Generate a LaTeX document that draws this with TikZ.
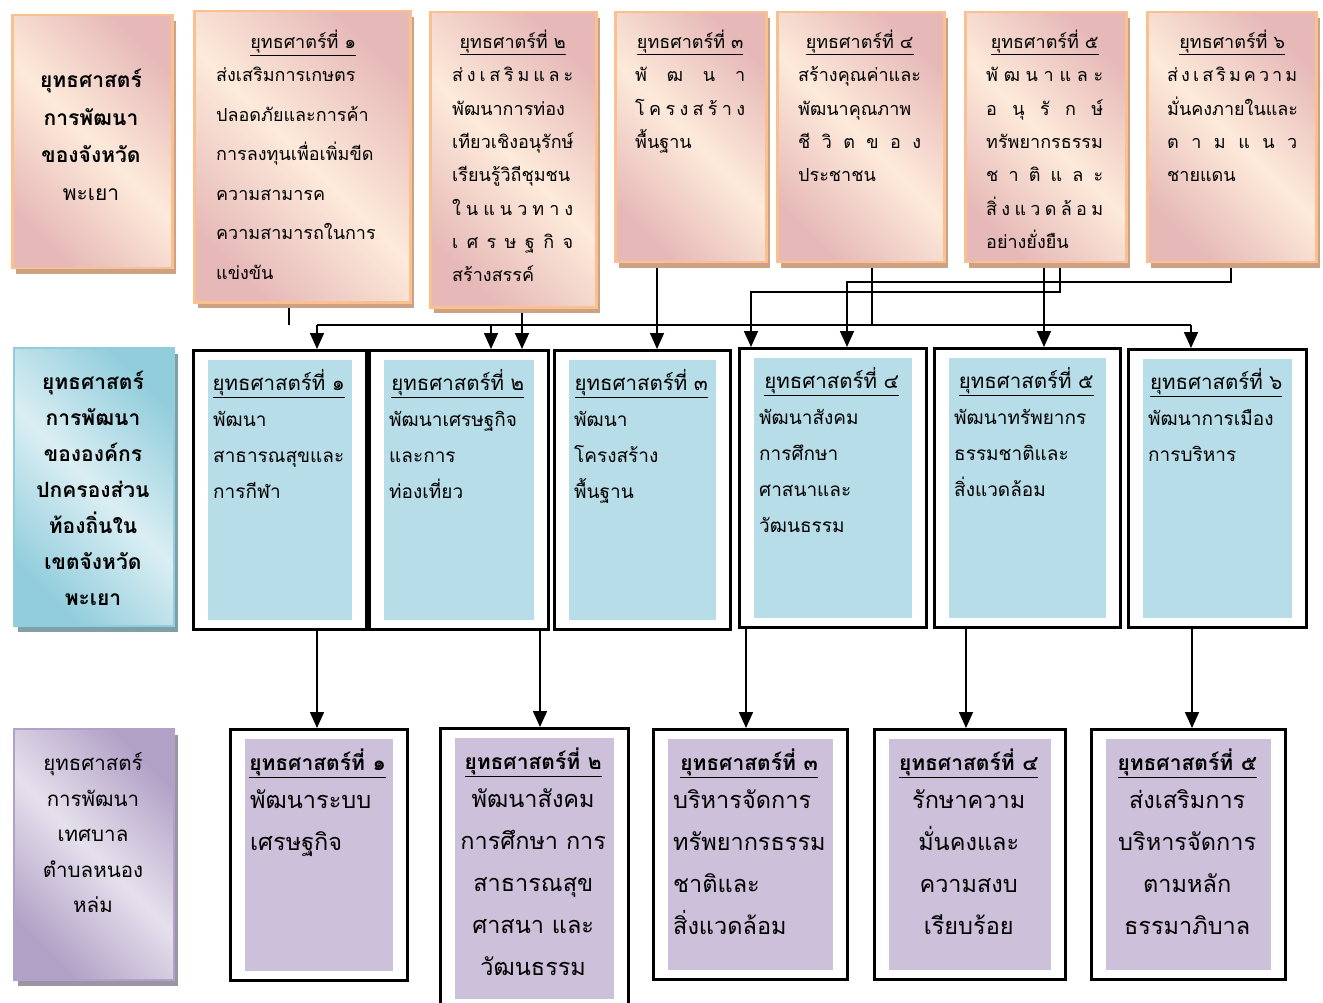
\documentclass[tikz,border=0pt]{standalone}
\usepackage{fontspec}
\newfontfamily\thai[Script=Thai]{Loma}
\usetikzlibrary{arrows.meta,shadows,backgrounds}
\definecolor{peach}{HTML}{FDEADA}
\definecolor{rose}{HTML}{E6B9B8}
\definecolor{apricot}{HTML}{FAC08F}
\definecolor{tan shadow}{HTML}{CDA284}
\definecolor{sky}{HTML}{92CDDC}
\definecolor{ice}{HTML}{DAEEF3}
\definecolor{sky shadow}{HTML}{7F9FA9}
\definecolor{lilac}{HTML}{B2A1C7}
\definecolor{mist}{HTML}{E5E0EC}
\definecolor{lilac shadow}{HTML}{9B94A4}
\definecolor{blue fill}{HTML}{B7DDE8}
\definecolor{lilac fill}{HTML}{CCC0DA}

\newcommand{\spreadline}[1]{\makebox[\hsize][s]{\spaceskip=0.1pt plus 1fil\relax #1}}
\newcommand{\headline}[1]{\makebox[\hsize]{\underline{#1}}}

\tikzset{
	every node/.style={anchor=north west, inner sep=0pt},
	planbox/.style={draw=apricot, line width=2.5pt,
		top color=rose, bottom color=rose, middle color=peach, shading angle=-45,
		drop shadow={shadow xshift=4pt, shadow yshift=-6pt, fill=tan shadow, opacity=1}},
	localbox/.style={draw=sky, line width=2pt,
		top color=sky, bottom color=sky, middle color=ice, shading angle=-45,
		drop shadow={shadow xshift=4pt, shadow yshift=-6pt, fill=sky shadow, opacity=1}},
	townbox/.style={draw=lilac, line width=2pt,
		top color=lilac, bottom color=lilac, middle color=mist, shading angle=-45,
		drop shadow={shadow xshift=4pt, shadow yshift=-6pt, fill=lilac shadow, opacity=1}},
	framebox/.style={draw=black, line width=2.5pt, fill=white},
	plantext/.style={align=left, font=\thai\fontsize{18}{33.3}\selectfont},
	midtext/.style={align=left, font=\thai\fontsize{19}{36}\selectfont},
	lowtext/.style={font=\thai\fontsize{23.5}{42}\selectfont},
	labeltext/.style={anchor=north, align=center, font=\thai\bfseries\fontsize{21}{36}\selectfont},
	wire/.style={line width=1.6pt},
	link/.style={line width=1.6pt, -{Triangle[width=14pt,length=16pt]}}
}
\newcommand{\midhead}[1]{\headline{\fontsize{20.5}{36}\selectfont #1}}
\newcommand{\lowhead}[1]{\headline{\fontsize{21}{42}\selectfont\bfseries #1}}

\begin{document}
\begin{tikzpicture}[x=1pt, y=-1pt]
	\useasboundingbox (0,0) rectangle (1323,1003);
	% province plans
	\node[planbox, minimum width=160pt, minimum height=253pt] (l1) at (11,14) {};
	\node[planbox, minimum width=216pt, minimum height=291pt] (s1) at (193,10) {};
	\node[planbox, minimum width=166pt, minimum height=295pt] (s2) at (429,11) {};
	\node[planbox, minimum width=151pt, minimum height=250pt] (s3) at (614,11) {};
	\node[planbox, minimum width=167pt, minimum height=250pt] (s4) at (776,11) {};
	\node[planbox, minimum width=161pt, minimum height=250pt] (s5) at (964,11) {};
	\node[planbox, minimum width=169pt, minimum height=250pt] (s6) at (1146,11) {};
	\node[labeltext, font=\thai\bfseries\fontsize{21}{37.5}\selectfont] at (91,69)
		{ยุทธศาสตร์\\ การพัฒนา\\ ของจังหวัด\\ \mdseries พะเยา};
	\node[plantext, text width=174pt, font=\thai\fontsize{18}{39.5}\selectfont] at (216,21)
		{\strut\headline{ยุทธศาตร์ที่ ๑}\\[-6.5pt] ส่งเสริมการเกษตร\\ ปลอดภัยและการค้า\\
		การลงทุนเพื่อเพิ่มขีด\\ ความสามารค\\ ความสามารถในการ\\ แข่งขัน};
	\node[plantext, text width=121pt] at (452,25)
		{\strut\headline{ยุทธศาตร์ที่ ๒}\\ \spreadline{ส่ ง เ ส ริ ม แ ล ะ}\\ พัฒนาการท่อง\\
		เทียวเชิงอนุรักษ์\\ เรียนรู้วิถีชุมชน\\ \spreadline{ใ น แ น ว ท า ง}\\
		\spreadline{เ ศ ร ษ ฐ กิ จ}\\ สร้างสรรค์};
	\node[plantext, text width=110pt] at (635,25)
		{\strut\headline{ยุทธศาตร์ที่ ๓}\\ \spreadline{พั ฒ น า}\\
		\spreadline{โ ค ร ง ส ร้ า ง}\\ พื้นฐาน};
	\node[plantext, text width=123pt] at (798,25)
		{\strut\headline{ยุทธศาตร์ที่ ๔}\\ สร้างคุณค่าและ\\ พัฒนาคุณภาพ\\
		\spreadline{ชี วิ ต ข อ ง}\\ ประชาชน};
	\node[plantext, text width=117pt] at (986,25)
		{\strut\headline{ยุทธศาตร์ที่ ๕}\\ \spreadline{พั ฒ น า แ ล ะ}\\
		\spreadline{อ นุ รั ก ษ์}\\ ทรัพยากรธรรม\\ \spreadline{ช า ติ แ ล ะ}\\
		\spreadline{สิ่ ง แ ว ด ล้ อ ม}\\ อย่างยั่งยืน};
	\node[plantext, text width=130pt] at (1167,25)
		{\strut\headline{ยุทธศาตร์ที่ ๖}\\ \spreadline{ส่ ง เ ส ริ ม ค ว า ม}\\
		มั่นคงภายในและ\\ \spreadline{ต า ม แ น ว}\\ ชายแดน};
	% local government plans
	\node[localbox, minimum width=160pt, minimum height=278pt] (l2) at (13,347) {};
	\node[framebox, minimum width=173pt, minimum height=279pt] (m1) at (192,349) {};
	\node[framebox, minimum width=179pt, minimum height=279pt] (m2) at (368,349) {};
	\node[framebox, minimum width=176pt, minimum height=279pt] (m3) at (553,349) {};
	\node[framebox, minimum width=187pt, minimum height=279pt] (m4) at (738,347) {};
	\node[framebox, minimum width=186pt, minimum height=279pt] (m5) at (933,347) {};
	\node[framebox, minimum width=178pt, minimum height=278pt] (m6) at (1127,348) {};
	\foreach \m in {m1,m2,m3,m4,m5,m6}
		\fill[blue fill] ([shift={(16,11)}]\m.north west) rectangle ([shift={(-16,-11)}]\m.south east);
	\node[labeltext] at (93,371) {ยุทธศาสตร์\\ การพัฒนา\\ ขององค์กร\\ ปกครองส่วน\\
		ท้องถิ่นใน\\ เขตจังหวัด\\ พะเยา};
	\node[midtext, text width=131pt] at ([shift={(21,16)}]m1.north west)
		{\strut\midhead{ยุทธศาสตร์ที่ ๑}\\ พัฒนา\\ สาธารณสุขและ\\ การกีฬา};
	\node[midtext, text width=137pt] at ([shift={(21,16)}]m2.north west)
		{\strut\midhead{ยุทธศาสตร์ที่ ๒}\\ พัฒนาเศรษฐกิจ\\ และการ\\ ท่องเที่ยว};
	\node[midtext, text width=134pt] at ([shift={(21,16)}]m3.north west)
		{\strut\midhead{ยุทธศาสตร์ที่ ๓}\\ พัฒนา\\ โครงสร้าง\\ พื้นฐาน};
	\node[midtext, text width=145pt] at ([shift={(21,16)}]m4.north west)
		{\strut\midhead{ยุทธศาสตร์ที่ ๔}\\ พัฒนาสังคม\\ การศึกษา\\ ศาสนาและ\\ วัฒนธรรม};
	\node[midtext, text width=144pt] at ([shift={(21,16)}]m5.north west)
		{\strut\midhead{ยุทธศาสตร์ที่ ๕}\\ พัฒนาทรัพยากร\\ ธรรมชาติและ\\ สิ่งแวดล้อม};
	\node[midtext, text width=136pt] at ([shift={(21,16)}]m6.north west)
		{\strut\midhead{ยุทธศาสตร์ที่ ๖}\\ พัฒนาการเมือง\\ การบริหาร};
	% municipality plans
	\node[townbox, minimum width=160pt, minimum height=251pt] (l3) at (13,728) {};
	\node[framebox, minimum width=177pt, minimum height=251pt] (b1) at (229,728) {};
	\node[framebox, minimum width=188pt, minimum height=280pt] (b2) at (439,727) {};
	\node[framebox, minimum width=194pt, minimum height=250pt] (b3) at (652,728) {};
	\node[framebox, minimum width=191pt, minimum height=250pt] (b4) at (873,728) {};
	\node[framebox, minimum width=194pt, minimum height=250pt] (b5) at (1090,728) {};
	\foreach \b in {b1,b2,b3,b4,b5}
		\fill[lilac fill] ([shift={(16,11)}]\b.north west) rectangle ([shift={(-16,-11)}]\b.south east);
	\node[labeltext, font=\thai\fontsize{20.5}{35.5}\selectfont] at (93,752.7)
		{ยุทธศาสตร์\\ การพัฒนา\\ เทศบาล\\ ตำบลหนอง\\ หล่ม};
	\node[lowtext, align=left, text width=135pt] at ([shift={(21,12.6)}]b1.north west)
		{\strut\lowhead{ยุทธศาสตร์ที่ ๑}\\[-4pt] พัฒนาระบบ\\ เศรษฐกิจ};
	\node[lowtext, align=center, text width=146pt] at ([shift={(21,12.6)}]b2.north west)
		{\strut\lowhead{ยุทธศาสตร์ที่ ๒}\\[-4pt] พัฒนาสังคม\\
		การศึกษา การ\\ สาธารณสุข\\ ศาสนา และ\\ วัฒนธรรม};
	\node[lowtext, align=left, text width=152pt] at ([shift={(21,12.6)}]b3.north west)
		{\strut\lowhead{ยุทธศาสตร์ที่ ๓}\\[-4pt] บริหารจัดการ\\
		ทรัพยากรธรรม\\ ชาติและ\\ สิ่งแวดล้อม};
	\node[lowtext, align=center, text width=149pt] at ([shift={(21,12.6)}]b4.north west)
		{\strut\lowhead{ยุทธศาสตร์ที่ ๔}\\[-4pt] รักษาความ\\
		มั่นคงและ\\ ความสงบ\\ เรียบร้อย};
	\node[lowtext, align=center, text width=152pt] at ([shift={(21,12.6)}]b5.north west)
		{\strut\lowhead{ยุทธศาสตร์ที่ ๕}\\[-4pt] ส่งเสริมการ\\
		บริหารจัดการ\\ ตามหลัก\\ ธรรมาภิบาล};
	% connectors
	\coordinate (bus) at (0,325);
	\begin{scope}[on background layer]
		\draw[wire] (s1.south -| 289,0) -- (bus -| 289,0);
		\draw[wire] (bus -| 317,0) -- (bus -| 1191,0);
		\draw[wire] (s4.south -| 872,0) -- (bus -| 872,0);
		\draw[link] (bus -| 317,0) -- (m1.north -| 317,0);
		\draw[link] (bus -| 491,0) -- (m2.north -| 491,0);
		\draw[link] (bus -| 1191,0) -- (m6.north -| 1191,0);
		\draw[link] (s2.south -| 522,0) -- (m2.north -| 522,0);
		\draw[link] (s3.south -| 657,0) -- (m3.north -| 657,0);
		\draw[link] (s5.south -| 1044,0) -- (m5.north -| 1044,0);
		\draw[link] (s5.south -| 1060,0) |- (751,292) -- (m4.north -| 751,0);
		\draw[link] (s6.south -| 1231,0) |- (847,282) -- (m4.north -| 847,0);
		% down to the municipality
		\draw[link] (m1.south -| 317,0) -- (b1.north -| 317,0);
		\draw[link] (m2.south -| 540,0) -- (b2.north -| 540,0);
		\draw[link] (m4.south -| 746,0) -- (b3.north -| 746,0);
		\draw[link] (m5.south -| 966,0) -- (b4.north -| 966,0);
		\draw[link] (m6.south -| 1192,0) -- (b5.north -| 1192,0);
	\end{scope}
\end{tikzpicture}
\end{document}
